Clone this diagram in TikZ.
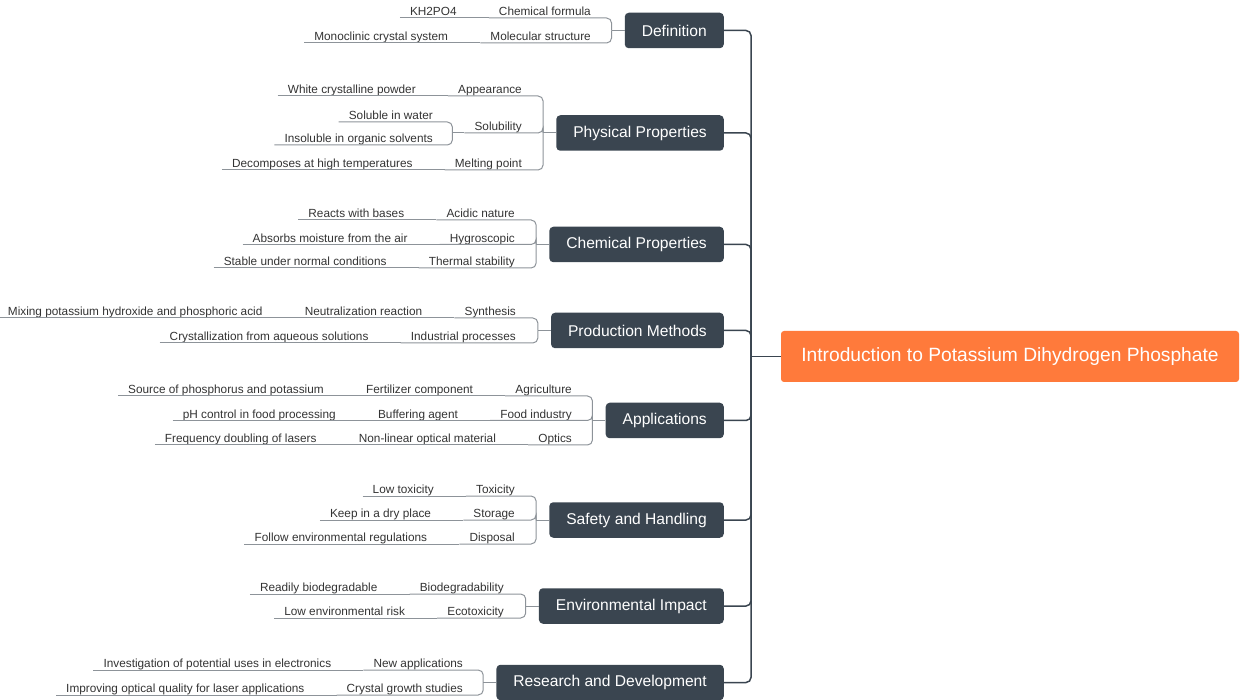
\documentclass[tikz,border=0pt]{standalone}
\usepackage{fontspec}
\setmainfont{Liberation Sans}
\usetikzlibrary{positioning}

\definecolor{rootorange}{HTML}{FF7A3B}
\definecolor{boxslate}{HTML}{3A4550}
\definecolor{twiggray}{HTML}{8D9399}
\definecolor{leaftext}{HTML}{333333}

\tikzset{
  root/.style={fill=rootorange, text=white, rounded corners=3pt,
    font=\fontsize{19.2}{22}\selectfont, minimum width=458pt,
    minimum height=51pt, inner sep=0pt},
  branch/.style={fill=boxslate, text=white, rounded corners=4pt,
    font=\fontsize{15.6}{18}\selectfont, minimum height=35.5pt,
    inner xsep=17pt, inner ysep=0pt},
  leaf/.style={text=leaftext, font=\fontsize{11.8}{14}\selectfont,
    inner xsep=10pt, inner ysep=0pt, text height=9pt, text depth=2pt},
  trunk/.style={draw=boxslate, line width=1.5pt, rounded corners=5pt},
  twig/.style={draw=twiggray, line width=1pt, rounded corners=5pt},
}

\begin{document}
\begin{tikzpicture}[x=1pt,y=-1pt]
\useasboundingbox (0,0) rectangle (1240,700);

\node[root] (root) at (1010,356.5) {Introduction to Potassium Dihydrogen Phosphate};
\coordinate (hub) at (751,356.5);

% main topics
\node[branch, anchor=east] (def) at (724,30.5) {Definition};
\node[branch, anchor=east] (phys) at (724,133) {Physical Properties};
\node[branch, anchor=east] (chem) at (724,244.5) {Chemical Properties};
\node[branch, anchor=east] (prod) at (724,330.5) {Production Methods};
\node[branch, anchor=east] (appl) at (724,420.5) {Applications};
\node[branch, anchor=east] (safe) at (724,520) {Safety and Handling};
\node[branch, anchor=east] (env) at (724,606) {Environmental Impact};
\node[branch, anchor=east] (rnd) at (724,682.5) {Research and Development};

\foreach \b in {def,phys,chem,prod,appl,safe,env,rnd}
  \draw[trunk] (\b.east) -| (hub);
\draw[trunk] (hub) -- (root.west);

\foreach \b in {def,phys,chem,prod,appl,safe,env,rnd}{
  \coordinate[left=13pt of \b.west] (\b b);
  \draw[twig] (\b b) -- (\b.west);
}

% Definition
\node[leaf, anchor=south east] (formula) at (601,18) {Chemical formula};
\node[leaf, left=22pt of formula] (kh) {KH2PO4};
\node[leaf, anchor=south east] (structure) at (601,43) {Molecular structure};
\node[leaf, left=22pt of structure] (mono) {Monoclinic crystal system};

% Physical Properties
\node[leaf, anchor=south east] (appear) at (532,96) {Appearance};
\node[leaf, left=22pt of appear] (white) {White crystalline powder};
\node[leaf, anchor=south east] (solub) at (532,133) {Solubility};
\coordinate[left=12pt of solub.south west] (solubb);
\node[leaf, anchor=south east] (water) at (443,122) {Soluble in water};
\node[leaf, anchor=south east] (organic) at (443,145) {Insoluble in organic solvents};
\node[leaf, anchor=south east] (melt) at (532,170) {Melting point};
\node[leaf, left=22pt of melt] (decomp) {Decomposes at high temperatures};

% Chemical Properties
\node[leaf, anchor=south east] (acid) at (525,220) {Acidic nature};
\node[leaf, left=22pt of acid] (bases) {Reacts with bases};
\node[leaf, anchor=south east] (hygro) at (525,244.5) {Hygroscopic};
\node[leaf, left=22pt of hygro] (moist) {Absorbs moisture from the air};
\node[leaf, anchor=south east] (therm) at (525,268) {Thermal stability};
\node[leaf, left=22pt of therm] (stable) {Stable under normal conditions};

% Production Methods
\node[leaf, anchor=south east] (synth) at (526,318) {Synthesis};
\node[leaf, left=22pt of synth] (neutral) {Neutralization reaction};
\node[leaf, left=22pt of neutral] (mixing) {Mixing potassium hydroxide and phosphoric acid};
\node[leaf, anchor=south east] (indus) at (526,343) {Industrial processes};
\node[leaf, left=22pt of indus] (cryst) {Crystallization from aqueous solutions};

% Applications
\node[leaf, anchor=south east] (agri) at (582,396) {Agriculture};
\node[leaf, left=22pt of agri] (fert) {Fertilizer component};
\node[leaf, left=22pt of fert] (source) {Source of phosphorus and potassium};
\node[leaf, anchor=south east] (food) at (582,420.5) {Food industry};
\node[leaf, left=22pt of food] (buffer) {Buffering agent};
\node[leaf, left=22pt of buffer] (ph) {pH control in food processing};
\node[leaf, anchor=south east] (optics) at (582,445) {Optics};
\node[leaf, left=22pt of optics] (nonlin) {Non-linear optical material};
\node[leaf, left=22pt of nonlin] (freq) {Frequency doubling of lasers};

% Safety and Handling
\node[leaf, anchor=south east] (tox) at (525,496) {Toxicity};
\node[leaf, left=22pt of tox] (lowtox) {Low toxicity};
\node[leaf, anchor=south east] (store) at (525,520) {Storage};
\node[leaf, left=22pt of store] (dry) {Keep in a dry place};
\node[leaf, anchor=south east] (dispo) at (525,544) {Disposal};
\node[leaf, left=22pt of dispo] (regul) {Follow environmental regulations};

% Environmental Impact
\node[leaf, anchor=south east] (biodeg) at (514,594) {Biodegradability};
\node[leaf, left=22pt of biodeg] (readily) {Readily biodegradable};
\node[leaf, anchor=south east] (ecotox) at (514,618) {Ecotoxicity};
\node[leaf, left=22pt of ecotox] (lowrisk) {Low environmental risk};

% Research and Development
\node[leaf, anchor=south east] (newapp) at (473,670) {New applications};
\node[leaf, left=22pt of newapp] (electro) {Investigation of potential uses in electronics};
\node[leaf, anchor=south east] (growth) at (473,695) {Crystal growth studies};
\node[leaf, left=22pt of growth] (laser) {Improving optical quality for laser applications};

% second level to brackets
\foreach \c/\b in {formula/def, structure/def, appear/phys, solub/phys, melt/phys,
    acid/chem, hygro/chem, therm/chem, synth/prod, indus/prod,
    agri/appl, food/appl, optics/appl, tox/safe, store/safe, dispo/safe,
    biodeg/env, ecotox/env, newapp/rnd, growth/rnd}
  \draw[twig] (\c.south west) -| (\b b);

% solubility bracket
\draw[twig] (water.south west) -| (solubb);
\draw[twig] (organic.south west) -| (solubb);
\draw[twig] (solubb) -- (solub.south west);

% deeper levels
\foreach \c/\p in {kh/formula, mono/structure, white/appear, decomp/melt,
    bases/acid, moist/hygro, stable/therm, neutral/synth, mixing/neutral,
    cryst/indus, fert/agri, source/fert, buffer/food, ph/buffer,
    nonlin/optics, freq/nonlin, lowtox/tox, dry/store, regul/dispo,
    readily/biodeg, lowrisk/ecotox, electro/newapp, laser/growth}
  \draw[twig] (\c.south west) -- (\p.south west);
\end{tikzpicture}
\end{document}
